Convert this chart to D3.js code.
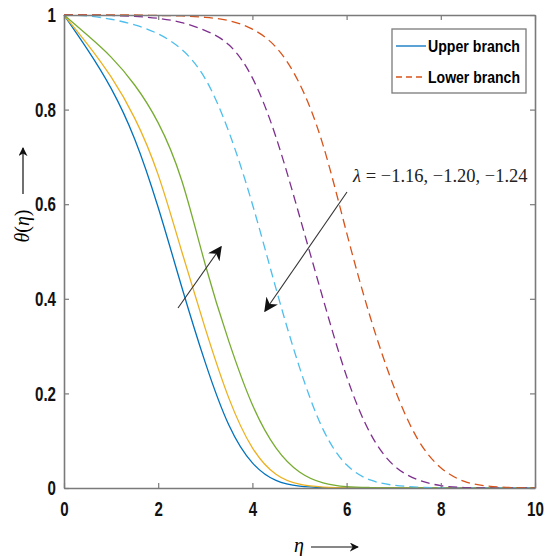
<!DOCTYPE html>
<html>
<head>
<meta charset="utf-8">
<script src="https://cdn.jsdelivr.net/npm/d3@7"></script>
<style>
  body { margin: 0; background: #fff; }
  .tick text { font-family: "Liberation Sans", Arial, sans-serif; font-weight: bold; }
  .serif { font-family: "Liberation Serif", "DejaVu Serif", serif; }
</style>
</head>
<body>
<div id="viz-container"></div>
<script>
// eta grid shared by all curves
var eta = [0, 0.5, 1, 1.5, 2, 2.5, 3, 3.5, 4, 4.5, 5, 5.5, 6, 6.5, 7, 7.5, 8, 8.5, 9, 9.5, 10];

// upper branch (solid)
var upper1 = [1, 0.927, 0.845, 0.738, 0.593, 0.425, 0.265, 0.133, 0.053, 0.016, 0.004, 0.001, 0, 0, 0, 0, 0, 0, 0, 0, 0];
var upper2 = [1, 0.938, 0.869, 0.782, 0.662, 0.5, 0.337, 0.19, 0.085, 0.029, 0.008, 0.002, 0, 0, 0, 0, 0, 0, 0, 0, 0];
var upper3 = [1, 0.957, 0.911, 0.852, 0.772, 0.65, 0.472, 0.31, 0.176, 0.085, 0.034, 0.011, 0.003, 0.001, 0, 0, 0, 0, 0, 0, 0];

// lower branch (dashed)
var lower1 = [1, 0.998, 0.991, 0.979, 0.96, 0.927, 0.865, 0.753, 0.6, 0.422, 0.255, 0.124, 0.049, 0.017, 0.006, 0.002, 0, 0, 0, 0, 0];
var lower2 = [1, 1, 0.999, 0.997, 0.993, 0.984, 0.967, 0.937, 0.867, 0.742, 0.575, 0.4, 0.236, 0.116, 0.048, 0.018, 0.005, 0.001, 0, 0, 0];
var lower3 = [1, 1, 1, 1, 0.999, 0.998, 0.995, 0.988, 0.97, 0.932, 0.855, 0.725, 0.54, 0.362, 0.215, 0.105, 0.043, 0.014, 0.004, 0.001, 0];

var xTicks = [0, 2, 4, 6, 8, 10];
var yTicks = [0, 0.2, 0.4, 0.6, 0.8, 1];

var series = [
  {vals: upper1, color: '#0072BD', dash: null},
  {vals: upper2, color: '#EDB120', dash: null},
  {vals: upper3, color: '#77AC30', dash: null},
  {vals: lower1, color: '#4DBEEE', dash: '9,5'},
  {vals: lower2, color: '#7E2F8E', dash: '9,5'},
  {vals: lower3, color: '#D95319', dash: '9,5'}
];

var svg = d3.select('#viz-container').append('svg')
  .attr('width', 551)
  .attr('height', 556);

var margin = {top: 15, right: 16, bottom: 68, left: 64},
    width = 551 - margin.left - margin.right,
    height = 556 - margin.top - margin.bottom;

var g = svg.append('g').attr('transform', 'translate(' + margin.left + ',' + margin.top + ')');

var x = d3.scaleLinear().domain([0, 10]).range([0, width]);
var y = d3.scaleLinear().domain([0, 1]).range([height, 0]);

var yFmt = function(d) { return d === 0 ? '0' : d === 1 ? '1' : d3.format('.1f')(d); };
var axisColor = '#7a7a7a';

// curves
var line = d3.line()
  .x(function(d) { return x(d[0]); })
  .y(function(d) { return y(d[1]); })
  .curve(d3.curveNatural);

g.append('g').selectAll('path')
  .data(series)
  .enter().append('path')
  .attr('d', function(s) { return line(eta.map(function(e, i) { return [e, s.vals[i]]; })); })
  .attr('fill', 'none')
  .attr('stroke', function(s) { return s.color; })
  .attr('stroke-width', 1.3)
  .attr('stroke-dasharray', function(s) { return s.dash; });

// axes (box with inward ticks)
function styleAxis(sel, showText) {
  sel.select('.domain').attr('stroke', axisColor).attr('stroke-width', 1.6);
  sel.selectAll('.tick line').attr('stroke', axisColor).attr('stroke-width', 1.2);
  sel.selectAll('.tick text').attr('fill', '#111').style('font-size', '21px')
    .each(function() {
      var w = this.getComputedTextLength();
      d3.select(this).attr('textLength', w * 0.72).attr('lengthAdjust', 'spacingAndGlyphs');
    });
  if (!showText) sel.selectAll('.tick text').remove();
}

g.append('g').attr('transform', 'translate(0,' + height + ')')
  .call(d3.axisBottom(x).tickValues(xTicks).tickFormat(d3.format('d')).tickSizeInner(-5).tickSizeOuter(0).tickPadding(13))
  .call(styleAxis, true);
g.append('g')
  .call(d3.axisTop(x).tickValues(xTicks).tickSizeInner(-5).tickSizeOuter(0))
  .call(styleAxis, false);
g.append('g')
  .call(d3.axisLeft(y).tickValues(yTicks).tickFormat(yFmt).tickSizeInner(-5).tickSizeOuter(0).tickPadding(8))
  .call(styleAxis, true);
g.append('g').attr('transform', 'translate(' + width + ',0)')
  .call(d3.axisRight(y).tickValues(yTicks).tickSizeInner(-5).tickSizeOuter(0))
  .call(styleAxis, false);

// arrow markers
var defs = svg.append('defs');
defs.append('marker')
  .attr('id', 'arr')
  .attr('viewBox', '0 0 10 10')
  .attr('refX', 9).attr('refY', 5)
  .attr('markerWidth', 9).attr('markerHeight', 9)
  .attr('markerUnits', 'userSpaceOnUse')
  .attr('orient', 'auto')
  .append('path')
  .attr('d', 'M0,0 L10,5 L0,10 L3,5 Z')
  .attr('fill', '#111');
defs.append('marker')
  .attr('id', 'arrBig')
  .attr('viewBox', '0 0 10 10')
  .attr('refX', 9).attr('refY', 5)
  .attr('markerWidth', 14).attr('markerHeight', 14)
  .attr('markerUnits', 'userSpaceOnUse')
  .attr('orient', 'auto')
  .append('path')
  .attr('d', 'M0,0 L10,5 L0,10 L3,5 Z')
  .attr('fill', '#111');

// axis titles
svg.append('text').attr('class', 'serif')
  .attr('x', 299).attr('y', 552)
  .attr('text-anchor', 'middle')
  .style('font-style', 'italic').style('font-size', '20px')
  .text('η');
svg.append('line')
  .attr('x1', 311).attr('y1', 547).attr('x2', 358).attr('y2', 547)
  .attr('stroke', '#111').attr('stroke-width', 1.2)
  .attr('marker-end', 'url(#arr)');

svg.append('text').attr('class', 'serif')
  .attr('transform', 'translate(29,226) rotate(-90)')
  .attr('text-anchor', 'middle')
  .style('font-size', '20px')
  .html('<tspan font-style="italic">θ</tspan>(<tspan font-style="italic">η</tspan>)');
svg.append('line')
  .attr('x1', 23).attr('y1', 194).attr('x2', 23).attr('y2', 148)
  .attr('stroke', '#111').attr('stroke-width', 1.2)
  .attr('marker-end', 'url(#arr)');

// annotation
svg.append('text').attr('class', 'serif')
  .attr('x', 353).attr('y', 182)
  .style('font-size', '18.5px').attr('fill', '#222')
  .html('<tspan font-style="italic">λ</tspan> = −1.16, −1.20, −1.24');

svg.append('line')
  .attr('x1', 178).attr('y1', 308).attr('x2', 221).attr('y2', 247)
  .attr('stroke', '#333').attr('stroke-width', 1.1)
  .attr('marker-end', 'url(#arrBig)');
svg.append('line')
  .attr('x1', 347).attr('y1', 192).attr('x2', 265).attr('y2', 311)
  .attr('stroke', '#333').attr('stroke-width', 1.1)
  .attr('marker-end', 'url(#arrBig)');

// legend
var legend = svg.append('g').attr('transform', 'translate(392,29)');
legend.append('rect')
  .attr('width', 134).attr('height', 64)
  .attr('fill', '#fff').attr('stroke', axisColor).attr('stroke-width', 1.3);
var legendItems = [
  {label: 'Upper branch', color: '#0072BD', dash: null, y: 17},
  {label: 'Lower branch', color: '#D95319', dash: '6,4', y: 48}
];
var li = legend.selectAll('.li').data(legendItems).enter().append('g')
  .attr('transform', function(d) { return 'translate(0,' + d.y + ')'; });
li.append('line')
  .attr('x1', 4).attr('x2', 34)
  .attr('stroke', function(d) { return d.color; })
  .attr('stroke-width', 1.3)
  .attr('stroke-dasharray', function(d) { return d.dash; });
li.append('text')
  .attr('x', 36).attr('y', 6)
  .attr('textLength', 92).attr('lengthAdjust', 'spacingAndGlyphs')
  .style('font-family', '"Liberation Sans", Arial, sans-serif')
  .style('font-weight', 'bold').style('font-size', '17px')
  .text(function(d) { return d.label; });
</script>
</body>
</html>
